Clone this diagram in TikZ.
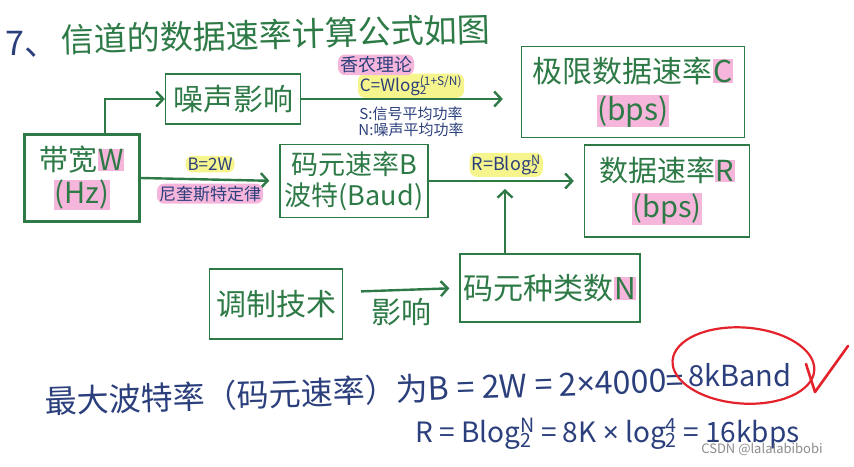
\documentclass[tikz,border=0pt]{standalone}
\usepackage{fontspec}
\setmainfont{Noto Sans CJK SC}
\newfontfamily\latinfont{Noto Sans}
\usepackage{xcolor}
\usetikzlibrary{arrows.meta,positioning,calc}

\definecolor{inkgreen}{HTML}{2E7A47}
\definecolor{inkblue}{HTML}{2B3F7C}
\definecolor{hlpink}{HTML}{F6B6DB}
\definecolor{hlyellow}{HTML}{F6F48C}
\definecolor{inkred}{HTML}{E3222B}

\newcommand{\hlp}[1]{{\setlength{\fboxsep}{0.5pt}\colorbox{hlpink}{#1}}}
\newcommand{\logtwo}[1]{log\rlap{\textsubscript{2}}\textsuperscript{#1}}
\newcommand{\timessign}{{\latinfont ×}}

\begin{document}
\begin{tikzpicture}[
    x=1pt, y=-1pt,
    box/.style={rectangle, draw=inkgreen, line width=1.3pt, text=inkgreen, align=center, font=\fontsize{30}{36}\selectfont, inner sep=2pt},
    arrow/.style={->, >={Straight Barb[length=7pt,width=15pt]}, draw=inkgreen, line width=2.4pt},
    note/.style={text=inkblue, inner sep=1pt, font=\fontsize{17}{20}\selectfont},
    hly/.style={note, fill=hlyellow, rounded corners=7pt, inner sep=2pt},
    hlpk/.style={note, fill=hlpink, rounded corners=7pt, inner sep=2pt},
    bigtext/.style={text=inkblue, inner sep=0pt, anchor=base west}
]
\useasboundingbox (0,0) rectangle (854,466);

% Title
\node[text=inkblue, font=\fontsize{34}{40}\selectfont, anchor=west] (num) at (2,44) {7、};
\node[text=inkgreen, font=\fontsize{33}{40}\selectfont, anchor=west, rotate=1.5] (title) at (58,40) {信道的数据速率计算公式如图};

% Boxes
\node[box, line width=2.4pt, font=\fontsize{29}{33}\selectfont, minimum width=115, minimum height=87] (bw) at (82,178) {带宽\hlp{W}\\\hlp{(Hz)}};
\node[box, minimum width=135, minimum height=50] (noise) at (233,99) {噪声影响};
\node[box, font=\fontsize{27}{31}\selectfont, minimum width=148, minimum height=73] (baud) at (354,181) {码元速率B\\波特(Baud)};
\node[box, font=\fontsize{30}{38}\selectfont, minimum width=223, minimum height=91] (capc) at (633,92) {极限数据速率\hlp{C}\\\hlp{(bps)}};
\node[box, font=\fontsize{29}{36}\selectfont, minimum width=165, minimum height=92] (rate) at (667,191) {数据速率\hlp{R}\\\hlp{(bps)}};
\node[box, minimum width=133, minimum height=70] (modul) at (276,304) {调制技术};
\node[box, minimum width=180, minimum height=68] (levels) at (550,288) {码元种类数\hlp{N}};

% Connections
\coordinate (tap) at (505,189);
\draw[arrow] ([xshift=23]bw.north) |- (noise.west);
\draw[arrow, shorten >=18pt] (noise.east) -- (noise.east -| capc.west)
    node[midway, above=0pt, hly] (shannon) {C=W\logtwo{(1+S/N)}}
    node[midway, below=6pt, note, font=\fontsize{15}{18}\selectfont] (sig) {S:信号平均功率};
\draw[arrow, shorten >=10pt] (bw.east) -- (baud.west)
    node[midway, above=6pt, hly] (nyq) {B=2W}
    node[midway, below=3pt, hlpk] (nyqlaw) {尼奎斯特定律};
\draw[arrow, shorten >=10pt] (baud.east) -- (baud.east -| rate.west)
    node[midway, above=3pt, hly, font=\fontsize{18}{22}\selectfont] (rform) {R=B\logtwo{N}};
\draw[arrow] (levels.north -| tap) -- (tap);
\draw[arrow, shorten <=18pt, shorten >=10pt] ([yshift=12]modul.east) -- (levels.west)
    node[midway, below=4pt, text=inkgreen, font=\fontsize{30}{34}\selectfont] (infl) {影响};

% Notes on Shannon arrow
\node[hlpk, font=\fontsize{18}{20}\selectfont, above=-3pt of shannon, xshift=-35pt] (shname) {香农理论};
\node[note, font=\fontsize{15}{18}\selectfont, below=-2pt of sig] (noi) {N:噪声平均功率};

% Worked example
\node[bigtext, font=\fontsize{32}{38}\selectfont, rotate=2] (maxb) at (45,414) {最大波特率（码元速率）为B = 2W = 2\timessign4000=};
\node[bigtext, font=\fontsize{29}{34}\selectfont] (kband) at ($(maxb.base east)+(3,-5)$) {8kBand};
\node[bigtext, font=\fontsize{28}{34}\selectfont] (rcalc) at (415,442) {R = B\logtwo{N} = 8K \timessign\ \logtwo{4} = 16kbps};

% Red marks
\draw[inkred, line width=2.2pt, rotate=-4] ($(kband.center)+(3,-10)$) ellipse[x radius=71pt, y radius=38pt];
\draw[inkred, line width=2.6pt, line cap=round, line join=round] (806,364) -- (815,392) -- (848,346);

% Watermark
\node[text=black!45, font=\fontsize{13}{15}\selectfont] (wm) at (762,449) {CSDN @lalalabibobi};

\end{tikzpicture}
\end{document}
